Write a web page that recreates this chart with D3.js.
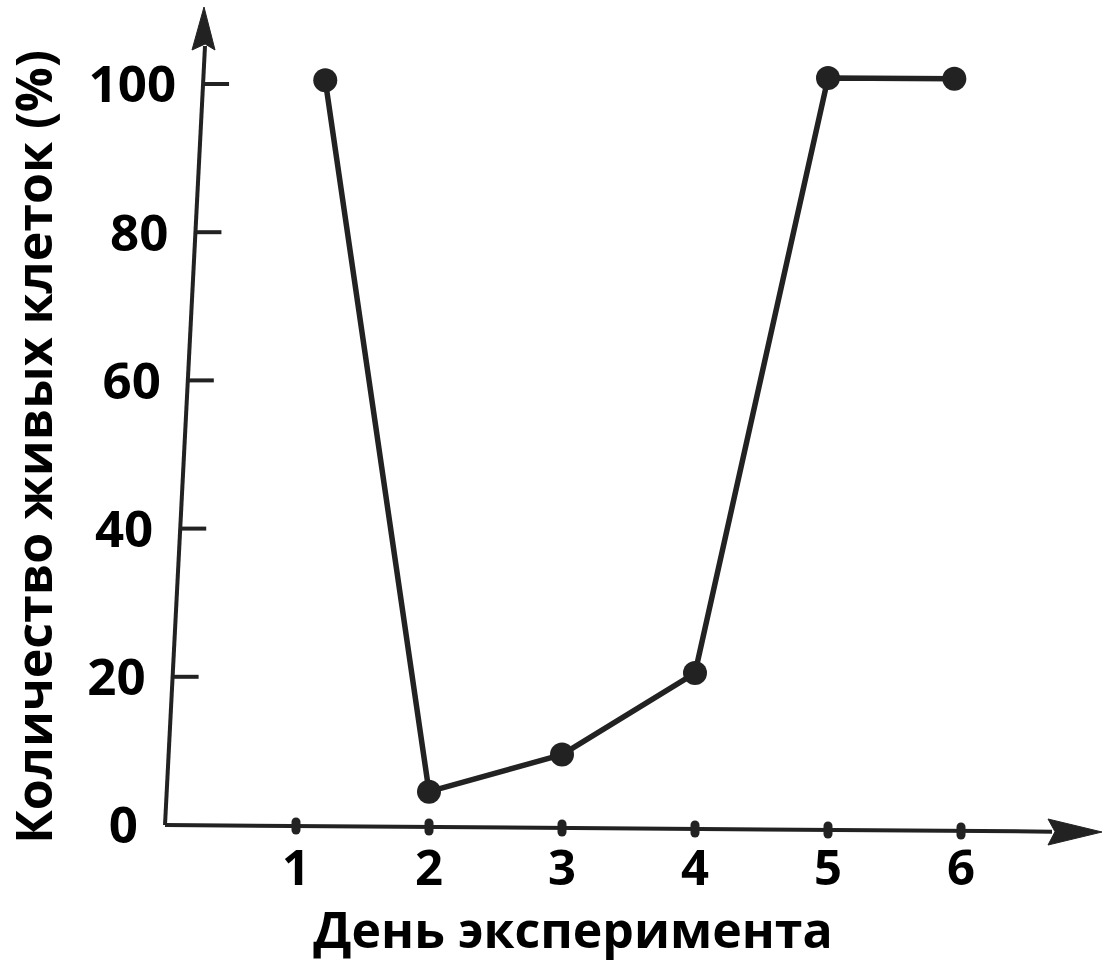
<!DOCTYPE html>
<html>
<head>
<meta charset="utf-8">
<script src="https://cdn.jsdelivr.net/npm/d3@7"></script>
<style>
  body { margin: 0; background: #fff; }
</style>
</head>
<body>
<div id="chart"></div>
<script>
// values
const days = [1.22, 2, 3, 4, 5, 5.95];
const liveCells = [100.5, 4.5, 9.5, 20.5, 100.8, 100.7];
const xTicks = [1, 2, 3, 4, 5, 6];
const yTicks = [0, 20, 40, 60, 80, 100];
const xTitle = 'День эксперимента';
const yTitle = 'Количество живых клеток (%)';

const width = 1106;
const height = 970;
const ink = '#222';
const font = '"Open Sans", "DejaVu Sans", sans-serif';

const svg = d3.select('#chart')
  .append('svg')
  .attr('width', width)
  .attr('height', height)
  .style('background', '#fff');

const x = d3.scaleLinear().domain([1, 6]).range([296, 961]);
const y = d3.scaleLinear().domain([0, 100]).range([825, 84]);

// the axes are hand drawn: y spine leans to the right, x spine drops a bit
const spineX = d3.scaleLinear().domain([825, 85]).range([165, 203]);
const spineY = d3.scaleLinear().domain([165, 1102]).range([825, 832]);

const axes = svg.append('g')
  .attr('stroke', ink)
  .attr('fill', ink);

// y spine + arrow
axes.append('path')
  .attr('fill', 'none')
  .attr('stroke-width', 4)
  .attr('d', d3.line()([[165, 825], [spineX(46), 46]]));
axes.append('path')
  .attr('stroke-width', 1)
  .attr('d', `M204,7 L215,50 L${spineX(44)},44 L192,50 Z`);

// x spine + arrow
axes.append('path')
  .attr('fill', 'none')
  .attr('stroke-width', 4)
  .attr('d', d3.line()([[165, 825], [1052, spineY(1052)]]));
axes.append('path')
  .attr('stroke-width', 1)
  .attr('d', `M1102,832 L1048,819 L1055,${spineY(1055)} L1048,845 Z`);

// y ticks and labels
yTicks.forEach(v => {
  const yy = y(v);
  const sx = spineX(yy);
  if (v > 0) {
    axes.append('line')
      .attr('x1', sx).attr('x2', sx + 26)
      .attr('y1', yy).attr('y2', yy)
      .attr('stroke-width', 4);
  }
  svg.append('text')
    .attr('x', sx - 27)
    .attr('y', yy)
    .attr('dy', '0.36em')
    .attr('text-anchor', 'end')
    .style('font-family', font)
    .style('font-weight', 700)
    .style('font-size', '51px')
    .style('fill', '#000')
    .text(v);
});

// x ticks (small blobs on the spine) and labels
xTicks.forEach(d => {
  const xx = x(d);
  const yy = spineY(xx);
  axes.append('line')
    .attr('x1', xx).attr('x2', xx)
    .attr('y1', yy - 4).attr('y2', yy + 4)
    .attr('stroke-width', 9)
    .attr('stroke-linecap', 'round');
  svg.append('text')
    .attr('x', xx)
    .attr('y', 885)
    .attr('text-anchor', 'middle')
    .style('font-family', font)
    .style('font-weight', 700)
    .style('font-size', '49px')
    .style('fill', '#000')
    .text(d);
});

// data line with dots
const points = days.map((d, i) => ({ day: d, value: liveCells[i] }));

svg.append('path')
  .datum(points)
  .attr('fill', 'none')
  .attr('stroke', ink)
  .attr('stroke-width', 5.5)
  .attr('stroke-linejoin', 'round')
  .attr('d', d3.line().x(d => x(d.day)).y(d => y(d.value)));

svg.selectAll('circle.pt')
  .data(points)
  .enter()
  .append('circle')
  .attr('class', 'pt')
  .attr('cx', d => x(d.day))
  .attr('cy', d => y(d.value))
  .attr('r', 12)
  .attr('fill', ink);

// axis titles
svg.append('text')
  .attr('x', 573)
  .attr('y', 948)
  .attr('text-anchor', 'middle')
  .style('font-family', font)
  .style('font-weight', 700)
  .style('font-size', '50px')
  .style('fill', '#000')
  .text(xTitle);

svg.append('text')
  .attr('transform', 'translate(52,447) rotate(-90)')
  .attr('text-anchor', 'middle')
  .style('font-family', font)
  .style('font-weight', 700)
  .style('font-size', '50px')
  .style('fill', '#000')
  .text(yTitle);
</script>
</body>
</html>
